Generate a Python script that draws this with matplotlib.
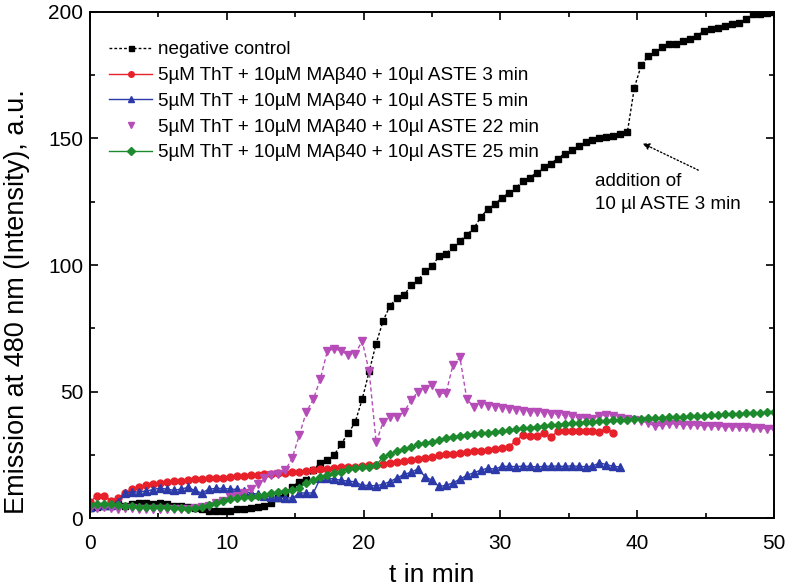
import numpy as np
import matplotlib
matplotlib.use("Agg")
import matplotlib.pyplot as plt
from matplotlib.ticker import MultipleLocator

plt.rcParams['font.family'] = ['Liberation Sans', 'DejaVu Sans']

# sampling interval of the measurement (min)
step = 50 / 98

neg_control = [4, 4.5, 5, 5, 5.5, 5, 5.5, 6, 6, 5.5, 6, 5.5, 5, 5, 4.5, 4, 3.5, 3, 3, 3,
               3, 3.5, 3.5, 4, 4.5, 5, 6, 8, 10, 12.5, 14.5, 15, 19, 22, 23, 25, 29.5, 33.5, 38, 47,
               58, 69, 78, 84, 87, 88, 92, 94, 97.5, 99.5, 103.5, 104.5, 107, 109.5, 112, 114.5, 119, 122, 124, 126.5,
               128.5, 130.5, 133, 134.5, 136.5, 138.5, 140, 142, 144, 145.5, 147, 148.5, 149.3, 150, 150.5, 151, 151.7, 152.5, 170, 179,
               182.5, 184, 186, 187.4, 187.4, 188.5, 189.3, 190.5, 192.5, 193, 193.6, 194.4, 195, 195.6, 197, 199, 199, 199.6, 200]

aste_3 = [6.4, 9, 9, 7, 8, 10, 11.5, 12.3, 13, 13.5, 14, 14.3, 14.6, 14.9, 15.2, 15.4, 15.6, 15.8, 16, 16.1,
          16.3, 16.6, 16.8, 17, 17.2, 17.4, 17.6, 17.8, 18, 18.2, 18.4, 18.7, 19, 19.3, 19.6, 19.9, 20.1, 20.3, 20.4, 20.6,
          20.9, 21.2, 21.5, 21.9, 22.3, 22.7, 23.1, 23.5, 23.9, 24.3, 24.8, 25.2, 25.5, 25.8, 26.1, 26.4, 26.7, 27, 27.4, 27.8,
          28.3, 30.5, 32.8, 32.6, 32.4, 33.7, 32, 34.3, 34.5, 34.6, 34.5, 34.4, 34.3, 34.2, 35.4, 33.8]

aste_5 = [4.5, 5.5, 5.3, 5.3, 6.5, 10, 10.4, 10.4, 10.8, 11.3, 12, 11.5, 11.1, 11.5, 12.2, 11, 10, 11.5, 11.8, 11.8,
          11.6, 11.4, 10.8, 10, 9.5, 8.8, 8.4, 8.4, 8.2, 7.9, 10, 10, 10, 15.8, 15.8, 15.5, 15, 14.7, 14.4, 13,
          13, 12.8, 13.5, 14.5, 16, 17.3, 18.2, 19.5, 16.5, 15, 12.6, 13, 14, 15.5, 17, 18, 19, 19.8, 19.4, 20.5,
          20.5, 20.4, 20.6, 20.5, 20.3, 20.5, 20.6, 20.6, 20.5, 20.7, 20.5, 20.4, 20.6, 21.9, 21.2, 20.5, 20.3]

aste_22 = [4, 4, 4.5, 4, 3.5, 4, 4, 3.5, 3.5, 3.5, 3.5, 3.5, 3.5, 3.5, 3.5, 4, 4.5, 5, 6, 7,
           8.4, 9, 10, 11.5, 13.5, 16, 17, 17.5, 19, 24, 33, 42, 47, 55, 66, 67, 66, 64.5, 65, 70,
           58, 30, 38, 40, 40, 42, 46.6, 50, 51, 52.5, 49.5, 49.3, 60.5, 63.5, 47, 44, 45.3, 44.5, 43.8, 43.4,
           43, 42.7, 42.4, 42.1, 41.9, 41.6, 41.3, 41, 40.7, 40.3, 39.8, 39.6, 39.4, 40.5, 40.7, 40.3, 39.8, 39.4, 39, 38.5,
           37.5, 36.4, 36.8, 37.4, 37.2, 37, 36.9, 36.7, 36.6, 36.5, 36.3, 36.2, 36.1, 36, 35.9, 35.8, 35.6, 35.4, 35.2]

aste_25 = [5.1, 5.5, 5.8, 5.5, 5.2, 5, 4.8, 4.5, 4.4, 4.3, 4.3, 4.3, 4.2, 4, 3.8, 4, 4.5, 5.1, 6, 7,
           7.6, 8, 8.3, 8.6, 9, 9.3, 9.8, 10.4, 10.8, 11.2, 12, 14, 15.3, 16.3, 17.2, 17.8, 18.4, 19.5, 20, 20.3,
           20.3, 21, 24.2, 25.5, 26.5, 27.2, 28.2, 29.2, 29.8, 30.2, 31, 31.6, 32.2, 32.6, 33, 33.4, 33.6, 33.8, 34, 34.3,
           34.7, 35.1, 35.5, 35.8, 36.1, 36.4, 36.7, 37, 37.3, 37.5, 37.7, 37.9, 38.1, 38.3, 38.5, 38.7, 38.9, 39, 39.2, 39.4,
           39.5, 39.7, 39.8, 39.9, 40, 40.1, 40.2, 40.3, 40.5, 40.7, 40.9, 41, 41.1, 41.3, 41.4, 41.6, 41.7, 41.8, 41.9]

labels = ["negative control",
          "5µM ThT + 10µM MAβ40 + 10µl ASTE 3 min",
          "5µM ThT + 10µM MAβ40 + 10µl ASTE 5 min",
          "5µM ThT + 10µM MAβ40 + 10µl ASTE 22 min",
          "5µM ThT + 10µM MAβ40 + 10µl ASTE 25 min"]


def times(v):
    return np.arange(len(v)) * step


fig = plt.figure(figsize=(7.87, 5.86), dpi=100)
ax = fig.add_axes([0.1144, 0.1155, 0.869, 0.8645])

ax.plot(times(neg_control), neg_control, color='black', ls=(0, (2, 1.5)), lw=1,
        marker='s', ms=4.5, label=labels[0])
ax.plot(times(aste_3), aste_3, color='#e8202a', lw=1, marker='o', ms=5, label=labels[1])
ax.plot(times(aste_5), aste_5, color='#2b3aa8', lw=1, marker='^', ms=5.5, label=labels[2])
ax.plot(times(aste_22), aste_22, color='#b64cb8', ls=(0, (3, 2)), lw=1,
        marker='v', ms=5.5, label=labels[3])
ax.plot(times(aste_25), aste_25, color='#1e8a2e', lw=1, marker='D', ms=4.5, label=labels[4])

ax.set_xlim(0, 50)
ax.set_ylim(0, 200)
ax.xaxis.set_major_locator(MultipleLocator(10))
ax.xaxis.set_minor_locator(MultipleLocator(5))
ax.yaxis.set_major_locator(MultipleLocator(50))
ax.yaxis.set_minor_locator(MultipleLocator(25))
ax.tick_params(which='both', direction='in', top=True, right=True, width=1.2, labelsize=15)
ax.tick_params(which='major', length=6)
ax.tick_params(which='minor', length=3.5)
ax.tick_params(axis='x', which='major', pad=11)
ax.tick_params(axis='y', which='major', pad=5)
for s in ax.spines.values():
    s.set_linewidth(1.4)

ax.set_xlabel("t in min", fontsize=19, labelpad=7.5)
ax.set_ylabel("Emission at 480 nm (Intensity), a.u.", fontsize=19.5)
ax.yaxis.set_label_coords(-0.088, 0.427)

# legend: the 22 min series shows only its marker
handles, _ = ax.get_legend_handles_labels()
leg = ax.legend(handles, labels, loc='upper left', bbox_to_anchor=(0.0, 0.979), frameon=False,
                fontsize=13.6, handlelength=2.3, handletextpad=0.3, labelspacing=0.45,
                markerscale=0.8, borderaxespad=0.6)
leg.legend_handles[3].set_linestyle('none')

ax.annotate("addition of\n10 µl ASTE 3 min", xy=(40.4, 148), xytext=(36.9, 128.5),
            fontsize=13.6, va='center', ha='left', linespacing=1.45,
            arrowprops=dict(arrowstyle='-|>', ls=':', lw=1, color='black',
                            shrinkA=0, shrinkB=0, mutation_scale=10,
                            relpos=(0.75, 1.0)))

fig.savefig("out.png", dpi=100)
